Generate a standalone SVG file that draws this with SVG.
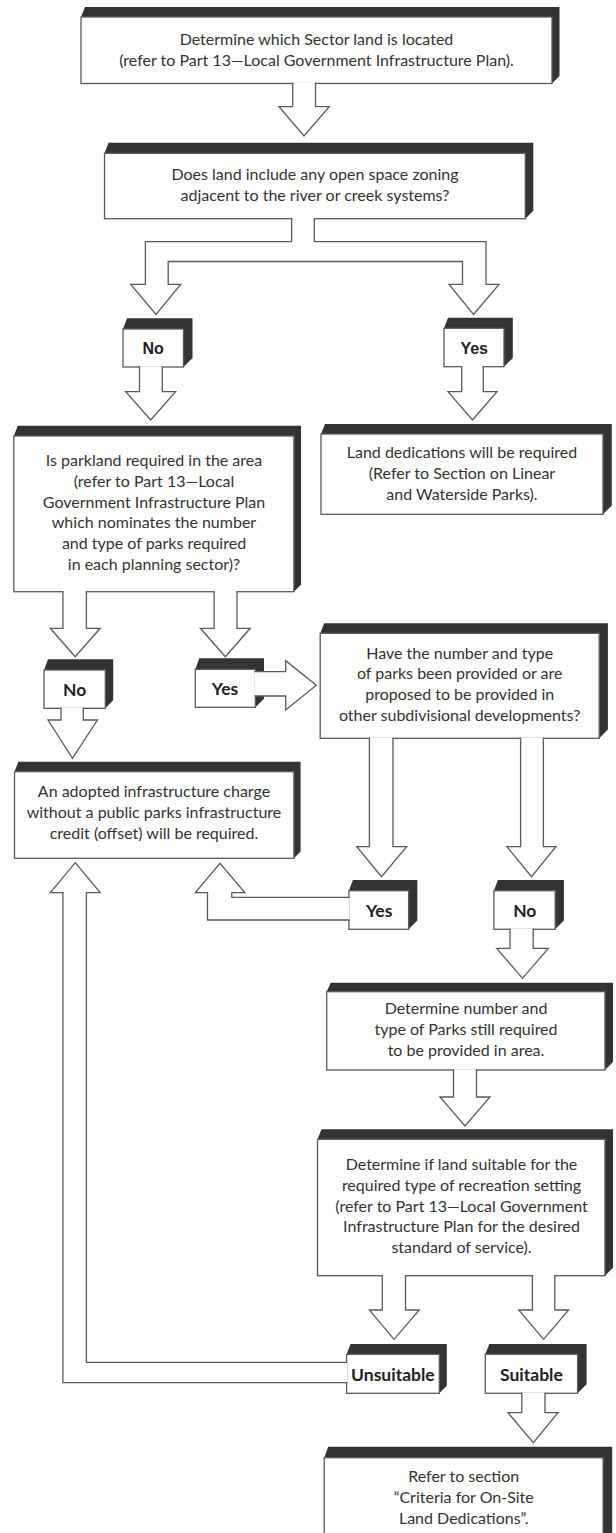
<svg xmlns="http://www.w3.org/2000/svg" width="616" height="1533" viewBox="0 0 616 1533">
  <style>
    .face { fill: #ffffff; stroke: #5a5a5a; stroke-width: 1.3; }
    .side { fill: #343233; stroke: none; }
    .arrow { fill: #ffffff; stroke: #5a5a5a; stroke-width: 1.3; stroke-linejoin: miter; }
    .body { font-family: Lato, "Liberation Sans", sans-serif; font-size: 16px; fill: #333333; text-anchor: middle; }
    .lbl { font-family: "Liberation Sans", Arial, sans-serif; font-weight: bold; font-size: 16px; fill: #222222; text-anchor: middle; }
    .lbl2 { font-family: Lato, "Liberation Sans", sans-serif; font-weight: bold; font-size: 17.5px; fill: #222222; text-anchor: middle; }
  </style>
  <rect width="616" height="1533" fill="#ffffff"/>

  <!-- process boxes: dark extruded top/right side under a white face -->
  <g id="box-sector">
    <polygon class="side" points="81,17 85,7 559.5,7 559.5,76 552,83.5 552,17"/>
    <rect class="face" x="81" y="17" width="471" height="66.5"/>
    <text class="body" x="316.5" y="45">Determine which Sector land is located</text>
    <text class="body" x="316.5" y="65.7">(refer to Part 13—Local Government Infrastructure Plan).</text>
  </g>

  <g id="box-open-space">
    <polygon class="side" points="104.5,153.3 108.5,142.7 533.3,142.7 533.3,210.7 525.3,218.7 525.3,153.3"/>
    <rect class="face" x="104.5" y="153.3" width="420.8" height="65.4"/>
    <text class="body" x="315" y="179.8">Does land include any open space zoning</text>
    <text class="body" x="315" y="200.5">adjacent to the river or creek systems?</text>
  </g>

  <g id="label-no-1">
    <polygon class="side" points="123,329 127,318.3 192.5,318.3 192.5,358 183.5,367 183.5,329"/>
    <rect class="face" x="123" y="329" width="60.5" height="38"/>
    <text class="lbl" x="153.2" y="354.3">No</text>
  </g>

  <g id="label-yes-1">
    <polygon class="side" points="444,328.3 448,317.7 512.8,317.7 512.8,358 504,366.7 504,328.3"/>
    <rect class="face" x="444" y="328.3" width="60" height="38.4"/>
    <text class="lbl" x="474.2" y="354.3">Yes</text>
  </g>

  <g id="box-parkland">
    <polygon class="side" points="13.8,436 17.8,425.7 301,425.7 301,584.7 293.9,591.7 293.9,436"/>
    <rect class="face" x="13.8" y="436" width="280.1" height="155.7"/>
    <text class="body" x="154" y="466">Is parkland required in the area</text>
    <text class="body" x="154" y="486.8">(refer to Part 13—Local</text>
    <text class="body" x="154" y="507.6">Government Infrastructure Plan</text>
    <text class="body" x="154" y="528.4">which nominates the number</text>
    <text class="body" x="154" y="549.2">and type of parks required</text>
    <text class="body" x="154" y="570">in each planning sector)?</text>
  </g>

  <g id="box-land-dedications">
    <polygon class="side" points="321,434 325,424 611.8,424 611.8,505.5 603,514.3 603,434"/>
    <rect class="face" x="321" y="434" width="282" height="80.3"/>
    <text class="body" x="462" y="458">Land dedications will be required</text>
    <text class="body" x="462" y="478.8">(Refer to Section on Linear</text>
    <text class="body" x="462" y="499.6">and Waterside Parks).</text>
  </g>

  <g id="box-provided">
    <polygon class="side" points="320.2,633.3 324.2,623.3 607.9,623.3 607.9,729.6 599.2,738.3 599.2,633.3"/>
    <rect class="face" x="320.2" y="633.3" width="279" height="105"/>
    <text class="body" x="459.7" y="658.6">Have the number and type</text>
    <text class="body" x="459.7" y="679.4">of parks been provided or are</text>
    <text class="body" x="459.7" y="700.2">proposed to be provided in</text>
    <text class="body" x="459.7" y="721">other subdivisional developments?</text>
  </g>

  <g id="label-no-2">
    <polygon class="side" points="44,670 48,659.3 113.2,659.3 113.2,700.3 105.3,708.3 105.3,670"/>
    <rect class="face" x="44" y="670" width="61.3" height="38.3"/>
    <text class="lbl2" x="74.7" y="695.5">No</text>
  </g>

  <g id="label-yes-2">
    <polygon class="side" points="195.3,669.3 199.3,658.3 264,658.3 264,698.7 255.4,707.3 255.4,669.3"/>
    <rect class="face" x="195.3" y="669.3" width="60.1" height="38"/>
    <text class="lbl2" x="225" y="695">Yes</text>
  </g>

  <g id="box-infrastructure-charge">
    <polygon class="side" points="14.5,771.7 18.5,761.7 300.6,761.7 300.6,851.6 293.9,858.3 293.9,771.7"/>
    <rect class="face" x="14.5" y="771.7" width="279.4" height="86.6"/>
    <text class="body" x="154" y="797">An adopted infrastructure charge</text>
    <text class="body" x="154" y="818">without a public parks infrastructure</text>
    <text class="body" x="154" y="838.7">credit (offset) will be required.</text>
  </g>

  <g id="label-yes-3">
    <polygon class="side" points="348.9,890.7 352.9,880 417.3,880 417.3,920.6 408.6,929.3 408.6,890.7"/>
    <rect class="face" x="348.9" y="890.7" width="59.7" height="38.6"/>
    <text class="lbl2" x="379.2" y="916.7">Yes</text>
  </g>

  <g id="label-no-3">
    <polygon class="side" points="493.9,890.7 497.9,880 563.9,880 563.9,920.6 555.2,929.3 555.2,890.7"/>
    <rect class="face" x="493.9" y="890.7" width="61.3" height="38.6"/>
    <text class="lbl2" x="524.8" y="916.7">No</text>
  </g>

  <g id="box-parks-required">
    <polygon class="side" points="326.7,991.7 330.7,982.7 613,982.7 613,1062 605,1070 605,991.7"/>
    <rect class="face" x="326.7" y="991.7" width="278.3" height="78.3"/>
    <text class="body" x="466" y="1014.3">Determine number and</text>
    <text class="body" x="466" y="1035.1">type of Parks still required</text>
    <text class="body" x="466" y="1055.9">to be provided in area.</text>
  </g>

  <g id="box-suitability">
    <polygon class="side" points="317.5,1139.3 321.5,1129.3 613,1129.3 613,1267.7 605,1275.7 605,1139.3"/>
    <rect class="face" x="317.5" y="1139.3" width="287.5" height="136.4"/>
    <text class="body" x="461.5" y="1169.9">Determine if land suitable for the</text>
    <text class="body" x="461.5" y="1190.7">required type of recreation setting</text>
    <text class="body" x="461.5" y="1211.5">(refer to Part 13—Local Government</text>
    <text class="body" x="461.5" y="1232.3">Infrastructure Plan for the desired</text>
    <text class="body" x="461.5" y="1253.1">standard of service).</text>
  </g>

  <g id="label-unsuitable">
    <polygon class="side" points="346.6,1354.3 350.6,1344 446.8,1344 446.8,1385.8 439.3,1393.3 439.3,1354.3"/>
    <rect class="face" x="346.6" y="1354.3" width="92.7" height="39"/>
    <text class="lbl2" x="392.9" y="1380.7">Unsuitable</text>
  </g>

  <g id="label-suitable">
    <polygon class="side" points="485.3,1354.3 489.3,1344 586.6,1344 586.6,1384.3 577.6,1393.3 577.6,1354.3"/>
    <rect class="face" x="485.3" y="1354.3" width="92.3" height="39"/>
    <text class="lbl2" x="531.4" y="1380.7">Suitable</text>
  </g>

  <g id="box-onsite-criteria">
    <polygon class="side" points="324.2,1457.7 328.2,1446.7 612.2,1446.7 612.2,1540 603.1,1545 603.1,1457.7"/>
    <rect class="face" x="324.2" y="1457.7" width="278.9" height="90"/>
    <text class="body" x="463.7" y="1482.3">Refer to section</text>
    <text class="body" x="463.7" y="1503.1">“Criteria for On-Site</text>
    <text class="body" x="463.7" y="1523.9">Land Dedications”.</text>
  </g>

  <!-- block arrows, drawn last so their white bodies open into the boxes they leave -->
  <g id="connectors">
    <path class="arrow" d="M292.7,82.5 V106.7 H279 L304,136 L329.3,106.7 H315.5 V82.5"/>
    <path class="arrow" d="M291.6,218 V241.7 H145.4 V284.3 H130.8 L156,314.5 L180.7,284.3 H168.2 V261.5 H462.5 V284.3 H449 L473.5,314.5 L499,284.3 H486 V241.7 H314.3 V218"/>
    <path class="arrow" d="M139.5,366.3 V391.7 H125.7 L150.7,420 L175.6,391.7 H162.3 V366.3"/>
    <path class="arrow" d="M461.7,366 V391.7 H448 L472.5,420 L497,391.7 H483.3 V366"/>
    <path class="arrow" d="M62.9,591 V628.3 H50.3 L75.2,656.7 L100.2,628.3 H86.4 V591"/>
    <path class="arrow" d="M214.1,591 V628.3 H200.4 L225.3,656.7 L250.3,628.3 H237 V591"/>
    <path class="arrow" d="M254.5,671.7 H285.7 V660.7 L316.3,685.3 L285.7,710 V696 H254.5"/>
    <path class="arrow" d="M61,707.6 V720 H48 L72.5,758.3 L97.4,720 H83.3 V707.6"/>
    <path class="arrow" d="M369.4,737.6 V846.7 H356.8 L381.5,876.7 L406.7,846.7 H393 V737.6"/>
    <path class="arrow" d="M520.6,737.6 V846.7 H506.9 L531.5,876.7 L556,846.7 H543.4 V737.6"/>
    <path class="arrow" d="M349.6,897.3 H231.8 V892.7 H244.8 L220,863.3 L195.3,892.7 H207.5 V920 H349.6"/>
    <path class="arrow" d="M510,928.6 V948.3 H496.7 L522.5,978.3 L548.3,948.3 H533.2 V928.6"/>
    <path class="arrow" d="M453.5,1069.3 V1097 H440 L465,1126 L490,1097 H476.5 V1069.3"/>
    <path class="arrow" d="M382.3,1275 V1310 H369.4 L394,1339.3 L419.3,1310 H405.5 V1275"/>
    <path class="arrow" d="M532.4,1275 V1310 H518.7 L543.6,1339.3 L568.6,1310 H554.8 V1275"/>
    <path class="arrow" d="M347.3,1362.3 H86.4 V892.7 H100.2 L75.3,862.7 L50.3,892.7 H62.9 V1382.7 H347.3"/>
    <path class="arrow" d="M521.8,1392.6 V1412.7 H508 L533.3,1442.7 L558,1412.7 H545 V1392.6"/>
  </g>
</svg>
